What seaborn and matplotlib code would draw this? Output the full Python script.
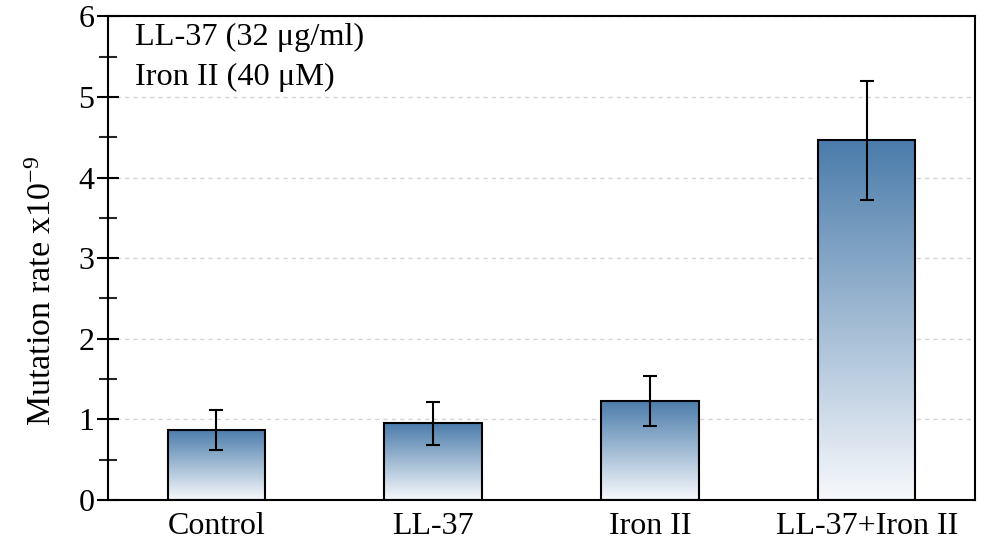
import numpy as np
import pandas as pd
import matplotlib
matplotlib.use("Agg")
import matplotlib.pyplot as plt
import seaborn as sns
from matplotlib.colors import LinearSegmentedColormap
from matplotlib.ticker import MultipleLocator

categories = ["Control", "LL-37", "Iron II", "LL-37+Iron II"]
mutation_rate = [0.87, 0.95, 1.23, 4.46]
error = [0.25, 0.27, 0.31, 0.74]
annotations = ["LL-37 (32 μg/ml)", "Iron II (40 μM)"]
y_label = r"Mutation rate x10$^{-9}$"

sns.set_theme(style="white")
plt.rcParams["font.family"] = ["Liberation Serif", "DejaVu Serif"]
plt.rcParams["mathtext.fontset"] = "custom"
plt.rcParams["mathtext.rm"] = "Liberation Serif"
plt.rcParams["mathtext.it"] = "Liberation Serif:italic"
plt.rcParams["mathtext.default"] = "rm"
plt.rcParams["text.color"] = "black"

fig = plt.figure(figsize=(9.81, 5.42), dpi=100)
ax = fig.add_axes([0.110, 0.0775, 0.884, 0.8925])

df = pd.DataFrame({"category": categories, "rate": mutation_rate})
sns.barplot(data=df, x="category", y="rate", width=0.45, color="#4d7eab",
            edgecolor="black", linewidth=1.5, errorbar=None, ax=ax, zorder=3)

cmap = LinearSegmentedColormap.from_list("grad", ["#f7f9fc", "#4b7cab"])
grad = np.linspace(0, 1, 256).reshape(-1, 1)
for p in ax.patches:
    x0, y0 = p.get_x(), p.get_y()
    w, h = p.get_width(), p.get_height()
    im = ax.imshow(grad, cmap=cmap, origin="lower", aspect="auto",
                   extent=[x0, x0 + w, y0, y0 + h], zorder=2.5, interpolation="bilinear")
    im.set_clip_path(p)
    p.set_facecolor("none")

ax.errorbar(x=np.arange(len(categories)), y=mutation_rate, yerr=error, fmt="none",
            ecolor="black", elinewidth=1.5, capsize=5, capthick=1.5, zorder=4)

ax.set_xlim(-0.5, 3.5)
ax.set_ylim(0, 6)
ax.yaxis.set_major_locator(MultipleLocator(1))
ax.yaxis.set_minor_locator(MultipleLocator(0.5))
ax.grid(axis="y", which="major", linestyle=(0, (3, 3)), color="#d4d4d4", linewidth=1)
ax.set_axisbelow(True)

for s in ax.spines.values():
    s.set_color("black")
    s.set_linewidth(1.5)

ax.tick_params(axis="y", which="major", direction="inout", length=15.5, width=1.5,
               labelsize=23, colors="black", left=True, pad=2)
ax.tick_params(axis="y", which="minor", direction="inout", length=12.5, width=1.5, left=True)
ax.tick_params(axis="x", which="both", length=0, labelsize=23, colors="black", pad=9)

ax.set_xlabel("")
ax.set_ylabel(y_label, fontsize=24.5, color="black")
ax.yaxis.set_label_coords(-0.058, 0.432)

ax.text(0.031, 0.957, annotations[0], transform=ax.transAxes, fontsize=23.3,
        va="center", ha="left", color="black")
ax.text(0.031, 0.874, annotations[1], transform=ax.transAxes, fontsize=23.3,
        va="center", ha="left", color="black")

fig.savefig("out.png", dpi=100)
